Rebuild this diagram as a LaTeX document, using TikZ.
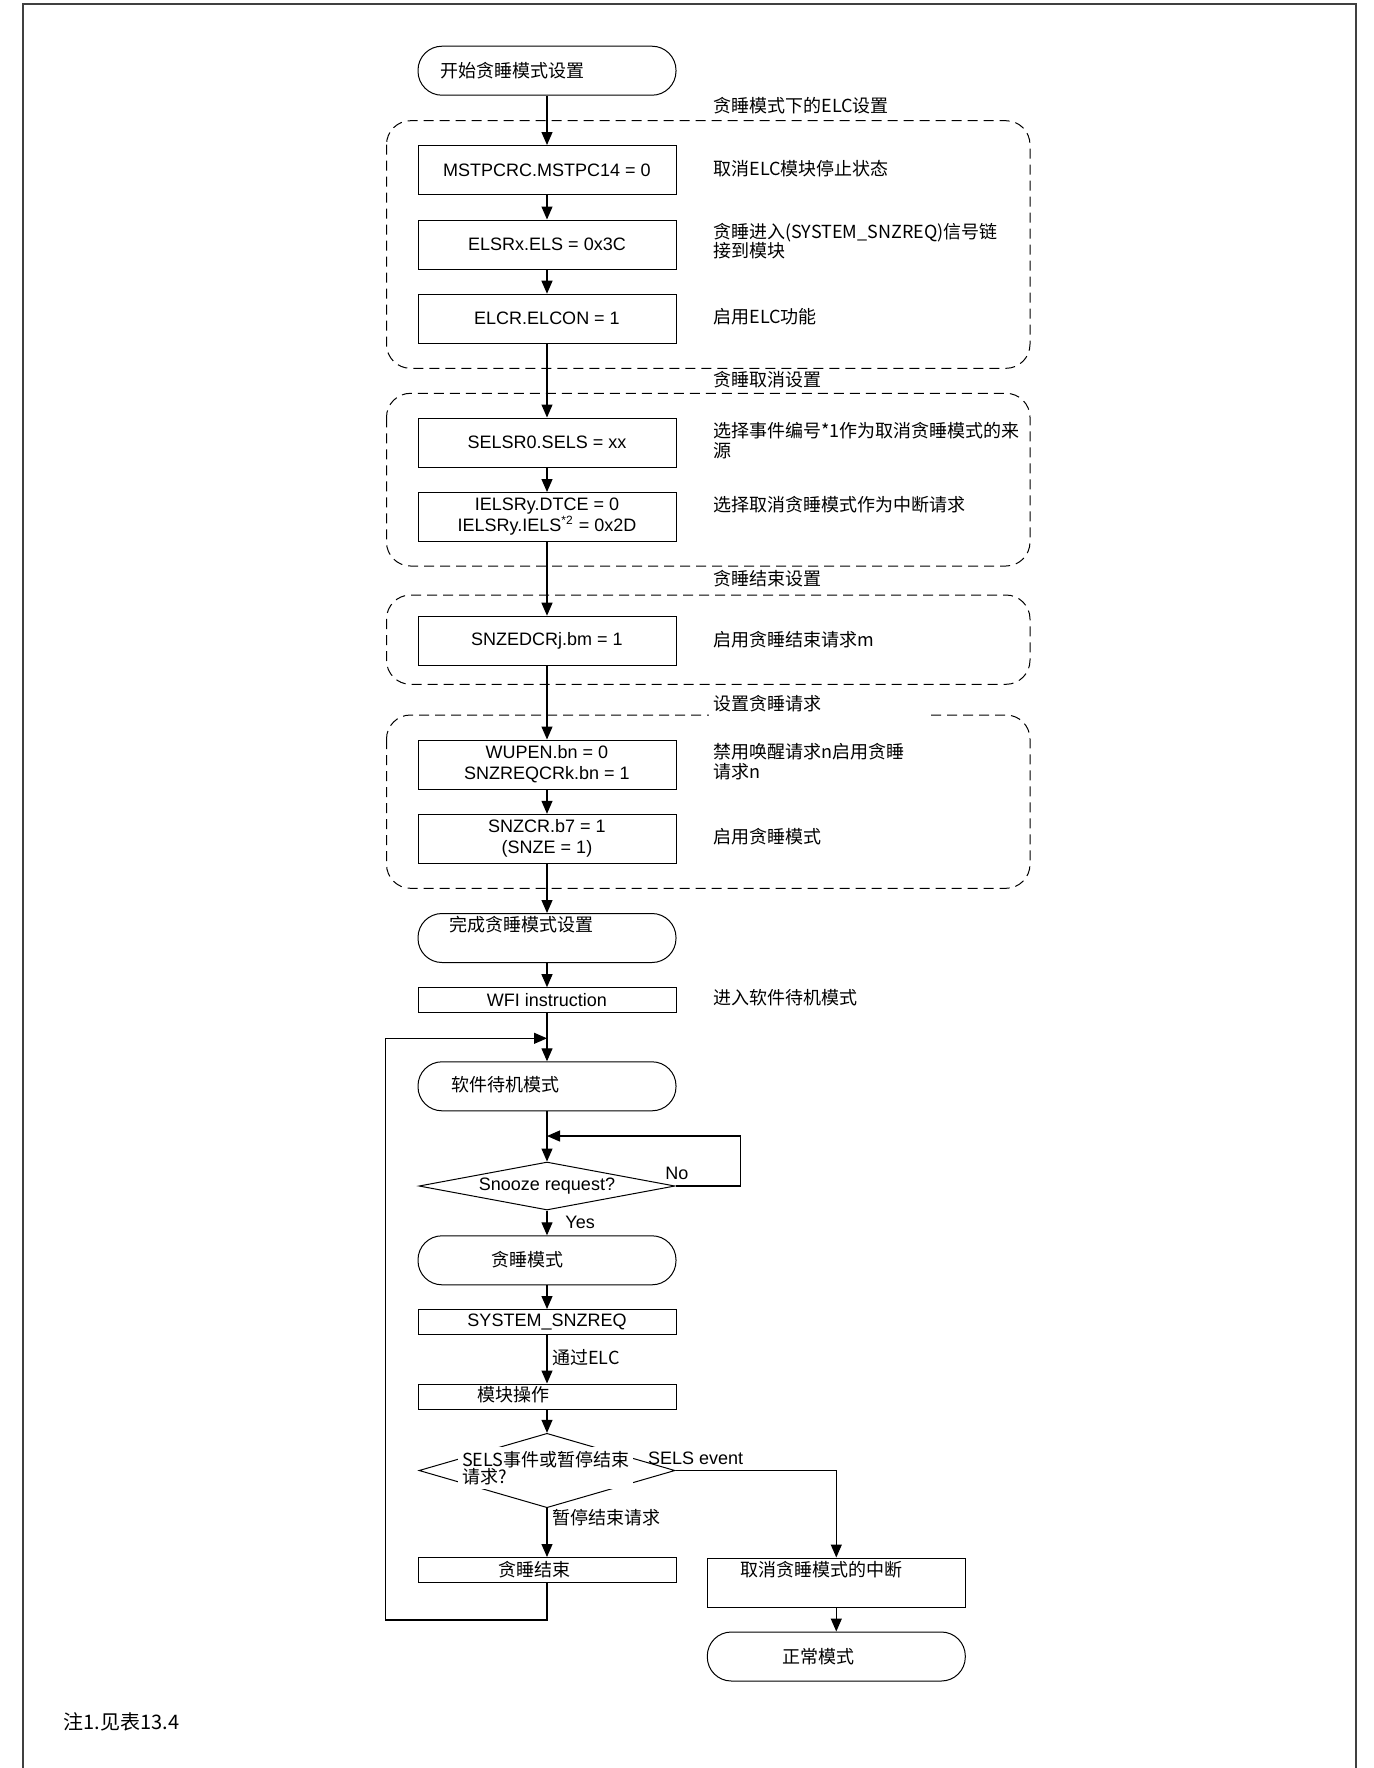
\documentclass[tikz,border=0pt]{standalone}
\usepackage{fontspec}
\setmainfont{Liberation Sans}
\newfontfamily\cjk{Noto Sans CJK SC}
\usetikzlibrary{arrows.meta,shapes.geometric}

\begin{document}
\begin{tikzpicture}[x=0.5pt,y=-0.5pt,
    font=\fontsize{9}{10.5}\selectfont,
    >={Triangle[length=6.5pt,width=5.5pt]},
    box/.style={draw,line width=0.5pt,minimum width=129pt,minimum height=24.5pt,inner sep=0pt,align=center},
    slim/.style={box,minimum height=12.5pt},
    term/.style={box,rounded corners=12pt},
    cond/.style={draw,diamond,line width=0.5pt,inner sep=0pt,minimum width=128pt},
    txt/.style={inner sep=0pt,font=\cjk\fontsize{9}{9.7}\selectfont},
    note/.style={anchor=west,inner sep=2pt,align=left,font=\cjk\fontsize{9}{9.7}\selectfont},
    grp/.style={draw,line width=0.5pt,dash pattern=on 5pt off 3pt,rounded corners=12pt},
    flow/.style={->,line width=0.6pt}]

  \useasboundingbox (0,0) rectangle (1373,1768);
  \draw[line width=0.75pt,black!75] (23,1768) -- (23,4) -- (1356,4) -- (1356,1768);

  % dashed setting groups
  \draw[grp] (386.5,120.7) rectangle (1030,368.3);
  \draw[grp] (386.5,393.3) rectangle (1030,566);
  \draw[grp] (386.5,595) rectangle (1030,684.3);
  \draw[grp] (386.5,715) rectangle (1030,888.3);
  \node[note] (g1) at (709,106) {贪睡模式下的ELC设置};
  \node[note] (g2) at (709,380) {贪睡取消设置};
  \node[note] (g3) at (709,578.3) {贪睡结束设置};
  \node[note,fill=white,text width=105pt,minimum height=14pt] (g4) at (709,703.3) {设置贪睡请求};

  % main column
  \node[term] (start) at (547,70.7) {};
  \node[txt,anchor=west] (starttxt) at (440,70.7) {开始贪睡模式设置};
  \node[box] (b1) at (547,170) {MSTPCRC.MSTPC14 = 0};
  \node[box] (b2) at (547,244.5) {ELSRx.ELS = 0x3C};
  \node[box] (b3) at (547,318.7) {ELCR.ELCON = 1};
  \node[box] (b4) at (547,442.5) {SELSR0.SELS = xx};
  \node[box] (b5) at (547,517) {IELSRy.DTCE = 0\\IELSRy.IELS\textsuperscript{*2} = 0x2D};
  \node[box] (b6) at (547,640.7) {SNZEDCRj.bm = 1};
  \node[box] (b7) at (547,764.5) {WUPEN.bn = 0\\SNZREQCRk.bn = 1};
  \node[box] (b8) at (547,838.8) {SNZCR.b7 = 1\\(SNZE = 1)};
  \node[term] (done) at (547,938) {};
  \node[txt,anchor=west] (donetxt) at (449,925) {完成贪睡模式设置};
  \node[slim] (wfi) at (547,1000.2) {WFI instruction};
  \node[term] (sb) at (547,1086.3) {};
  \node[txt,anchor=west] (sbtxt) at (451,1085) {软件待机模式};
  \node[cond,shape aspect=5.3,minimum height=24pt] (snooze) at (547,1186) {Snooze request?};
  \node[term] (snz) at (547,1260.3) {};
  \node[txt] (snztxt) at (527,1260) {贪睡模式};
  \node[slim] (req) at (547,1322) {SYSTEM\_SNZREQ};
  \node[slim] (mod) at (547,1396.5) {};
  \node[txt,anchor=west] (modtxt) at (476.6,1395) {模块操作};
  \node[cond,minimum height=37.2pt] (sels) at (547,1470.5) {};
  \node[txt,anchor=west,fill=white,inner sep=2pt,align=left,font=\cjk\fontsize{9}{8.5}\selectfont] (selstxt) at (457.7,1467.7) {SELS事件或暂停结束\\请求?};
  \node[slim] (stop) at (547,1570) {};
  \node[txt] (stoptxt) at (534.5,1570) {贪睡结束};

  % right column
  \node[box] (cancel) at (836.3,1582.5) {};
  \node[txt] (canceltxt) at (821,1570) {取消贪睡模式的中断};
  \node[term] (normal) at (836.3,1656.5) {};
  \node[txt] (normaltxt) at (818,1656.5) {正常模式};

  % comments
  \node[note] (c1) at (709,168.3) {取消ELC模块停止状态};
  \node[note] (c2) at (709,241.3) {贪睡进入(SYSTEM\_SNZREQ)信号链\\接到模块};
  \node[note] (c3) at (709,317) {启用ELC功能};
  \node[note,fill=white] (c4) at (709,440.5) {选择事件编号*1作为取消贪睡模式的来\\源};
  \node[note] (c5) at (709,505) {选择取消贪睡模式作为中断请求};
  \node[note] (c6) at (709,639.3) {启用贪睡结束请求m};
  \node[note] (c7) at (709,761.7) {禁用唤醒请求n启用贪睡\\请求n};
  \node[note] (c8) at (709,836.7) {启用贪睡模式};
  \node[note] (c9) at (709,998) {进入软件待机模式};

  % connectors
  \coordinate (j1) at (547,1038.3);
  \coordinate (lp) at (385.7,1620);
  \coordinate (j2) at (547,1136);
  \coordinate (nr) at (740.7,1136);
  \foreach \a/\b in {start/b1,b1/b2,b2/b3,b3/b4,b4/b5,b5/b6,b6/b7,b7/b8,b8/done,done/wfi,wfi/sb,sb/snooze,snooze/snz,snz/req,req/mod,mod/sels,sels/stop,cancel/normal}
    \draw[flow] (\a) -- (\b);
  \draw[flow] (stop.south) |- (lp) |- (j1);
  \draw[flow] (snooze.east) -| (nr) -- (j2);
  \draw[flow] (sels.east) -| (cancel);

  \node[anchor=west,inner sep=0pt] (no) at (665,1173.3) {No};
  \node[anchor=west,inner sep=0pt] (yes) at (565,1222.3) {Yes};
  \node[txt,anchor=west] (viaelc) at (551.8,1357.7) {通过ELC};
  \node[anchor=west,inner sep=0pt] (selsev) at (647.7,1458.3) {SELS event};
  \node[txt,anchor=west] (pausereq) at (551.8,1517.7) {暂停结束请求};

  \node[txt,anchor=west,font=\cjk\fontsize{10}{12}\selectfont] (fn) at (63.3,1721.7) {注1.见表13.4};
\end{tikzpicture}
\end{document}
